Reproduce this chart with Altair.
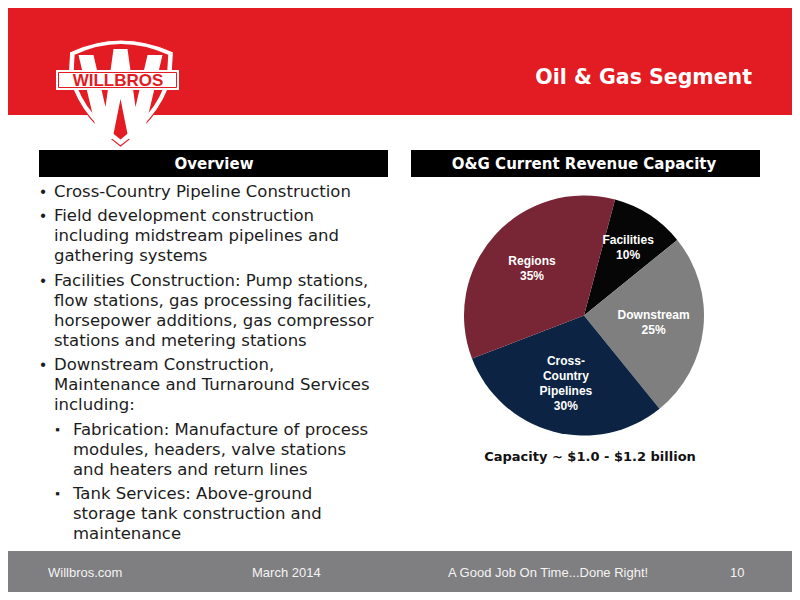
import math
import altair as alt
import pandas as pd

# ---------------- data ----------------
categories = ["Facilities", "Downstream", "Cross-Country Pipelines", "Regions"]
label_lines = ["Facilities", "Downstream", "Cross-\nCountry\nPipelines", "Regions"]
shares = [10, 25, 30, 35]
slice_colors = ["#060606", "#7f7f7f", "#0c2343", "#782535"]

title_text = "Oil & Gas Segment"
left_header = "Overview"
right_header = "O&G Current Revenue Capacity"
capacity_note = "Capacity ~  $1.0 - $1.2 billion"
logo_text = "WILLBROS"

bullet_levels = [0, 0, 0, 0, 1, 1]
bullet_lines = [
    ["Cross-Country Pipeline Construction"],
    ["Field development construction", "including midstream pipelines and", "gathering systems"],
    ["Facilities Construction: Pump stations,", "flow stations, gas processing facilities,",
     "horsepower additions, gas compressor", "stations and metering stations"],
    ["Downstream Construction,", "Maintenance and Turnaround Services", "including:"],
    ["Fabrication: Manufacture of process", "modules, headers, valve stations",
     "and heaters and return lines"],
    ["Tank Services: Above-ground", "storage tank construction and", "maintenance"],
]
footer_texts = ["Willbros.com", "March 2014", "A Good Job On Time...Done Right!", "10"]

# ---------------- layout ----------------
W, H = 784, 584
RED = "#e31b23"
ARIAL = "Liberation Sans"
WIDE = "DejaVu Sans"


def P(v):
    return v - 8


one = alt.Data(values=[{}])


def rect(x1, x2, y1, y2, color):
    return alt.Chart(one).mark_rect(color=color).encode(
        x=alt.value(P(x1)), x2=alt.value(P(x2)), y=alt.value(P(y1)), y2=alt.value(P(y2)))


def text(s, x, y, size, color="#1c1c1c", weight="normal", align="left", font=WIDE):
    return alt.Chart(one).mark_text(
        text=s, fontSize=size, color=color, fontWeight=weight, align=align,
        baseline="middle", font=font).encode(x=alt.value(P(x)), y=alt.value(P(y)))


def shape(path, x, y, color, scale=1.0, stroke=None, sw=0):
    kw = dict(shape=path, size=4 * scale * scale, filled=True, fill=color, opacity=1,
              strokeWidth=sw)
    if stroke:
        kw["stroke"] = stroke
    return alt.Chart(one).mark_point(**kw).encode(x=alt.value(P(x)), y=alt.value(P(y)))


layers = []
# header band
layers.append(rect(0, 800, 0, 115, RED))

# logo
shield = "M -51 -38 Q 0 -62 53 -38 L 52 -20 Q 48 20 0 56 Q -48 20 -52 -20 Z"
w_path = ("M -42 -36 L -27 -36 L -15 16 L -7 -42 L 7 -42 L 15 16 L 27 -36 L 42 -36 "
          "L 22 48 L 8 48 L 0 8 L -8 48 L -22 48 Z")
layers.append(shape(shield, 120.5, 90, "#ffffff", 1.0, RED, 1.2))
layers.append(shape(shield, 120.5, 89, RED, 0.9))
layers.append(shape(w_path, 120.5, 91, "#ffffff", 1.0))
layers.append(rect(56, 179, 70, 90, "#ffffff"))
layers.append(alt.Chart(one).mark_rect(fill="#ffffff", stroke=RED, strokeWidth=1).encode(
    x=alt.value(P(58.5)), x2=alt.value(P(176.5)), y=alt.value(P(72.5)), y2=alt.value(P(87.5))))
layers.append(text(logo_text, 118, 80.5, 17, RED, "bold", "center", ARIAL))

# title
layers.append(text(title_text, 752, 77.5, 20.5, "#ffffff", "bold", "right"))

# section headers
layers.append(rect(39, 388, 150, 177, "#000000"))
layers.append(text(left_header, 214, 164, 15, "#ffffff", "bold", "center"))
layers.append(rect(411, 760, 150, 177, "#000000"))
layers.append(text(right_header, 584, 164, 15, "#ffffff", "bold", "center"))

# bullets
y = 191.7
for lvl, lines in zip(bullet_levels, bullet_lines):
    if lvl == 0:
        layers.append(text("\u2022", 43, y, 16, align="center", font=ARIAL))
        tx = 54
    else:
        layers.append(text("\u25aa", 57.5, y, 13, align="center", font=ARIAL))
        tx = 73
    for ln in lines:
        layers.append(text(ln, tx, y, 16.5))
        y += 20
    y += 4.5

# pie
CX, CY, R = 584, 315.5, 120
LH = 15
pie_df = pd.DataFrame({
    "category": categories,
    "share": shares,
    "ord": list(range(len(categories))),
    "label": [f"{l}\n{s}%" for l, s in zip(label_lines, shares)],
})
pie_df["nlines"] = pie_df["label"].str.count("\n") + 1
start = math.radians(15)
arcs = alt.Chart(pie_df).mark_arc(outerRadius=R).encode(
    theta=alt.Theta("share:Q", stack=True, scale=alt.Scale(range=[start, start + 2 * math.pi])),
    order=alt.Order("ord:Q"),
    color=alt.Color("category:N", scale=alt.Scale(domain=categories, range=slice_colors), legend=None),
    x=alt.value(P(CX)), y=alt.value(P(CY)),
)
labels = alt.Chart(pie_df).transform_window(
    cum="sum(share)", sort=[alt.SortField("ord")], frame=[None, 0]
).transform_joinaggregate(
    total="sum(share)"
).transform_calculate(
    mid=f"{start} + 2 * PI * (datum.cum - datum.share / 2) / datum.total",
    lr="datum.share / datum.total < 0.15 ? 81 : 70",
).transform_calculate(
    px=f"{P(CX)} + datum.lr * sin(datum.mid)",
    py=f"{P(CY)} - datum.lr * cos(datum.mid) - (datum.nlines - 1) * {LH} / 2",
).mark_text(fontSize=12, fontWeight="bold", color="#ffffff", font=ARIAL,
            lineBreak="\n", lineHeight=LH, align="center", baseline="middle").encode(
    text="label:N",
    x=alt.X("px:Q", scale=None),
    y=alt.Y("py:Q", scale=None),
)
layers += [arcs, labels]

layers.append(text(capacity_note, 590, 457, 13, "#111111", "bold", "center"))

# footer
layers.append(rect(0, 800, 551, 600, "#7f7e80"))
for s, fx in zip(footer_texts, [48, 252, 448, 730]):
    layers.append(text(s, fx, 573, 13, "#f4f4f4", font=ARIAL))

chart = alt.layer(*layers).properties(
    width=W, height=H, autosize=alt.AutoSizeParams(type="none"), padding=0
).configure_view(stroke=None)

chart.save("out.html", embed_options={"renderer": "svg", "actions": False})
